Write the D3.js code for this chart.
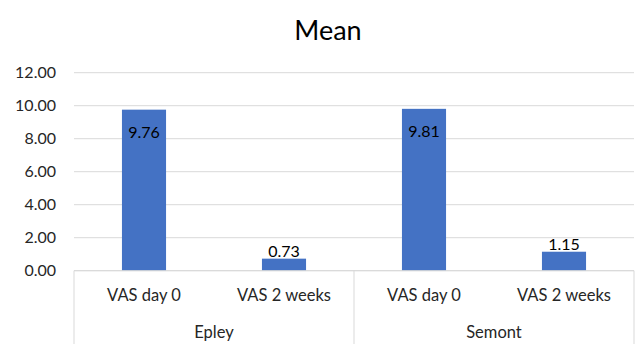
<!DOCTYPE html>
<html>
<head>
<meta charset="utf-8">
<script src="https://cdn.jsdelivr.net/npm/d3@7"></script>
<style>
  body { margin: 0; background: #fff; }
  svg { display: block; font-family: Lato, "Open Sans", sans-serif; }
</style>
</head>
<body>
<div id="chart"></div>
<script>
// groups and sub-categories
const groups = ["Epley", "Semont"];
const subCategories = ["VAS day 0", "VAS 2 weeks"];
const meanValues = [9.76, 0.73, 9.81, 1.15];
const yTicks = [0, 2, 4, 6, 8, 10, 12];

const width = 644, height = 344;
const margin = {top: 72.7, right: 10, bottom: 73.3, left: 74};

const rows = [];
groups.forEach((g, gi) => subCategories.forEach((s, si) => rows.push({group: g, sub: s, value: meanValues[gi * subCategories.length + si]})));

const svg = d3.select("#chart").append("svg")
    .attr("width", width)
    .attr("height", height);

const x0 = d3.scaleBand()
    .domain(groups)
    .range([margin.left, width - margin.right]);

const x1 = d3.scaleBand()
    .domain(subCategories)
    .range([0, x0.bandwidth()])
    .paddingInner(0.685)
    .paddingOuter(0.3425);

const y = d3.scaleLinear()
    .domain([0, 12])
    .range([height - margin.bottom, margin.top]);

// grid lines
svg.append("g")
  .selectAll("line")
  .data(yTicks)
  .join("line")
    .attr("x1", margin.left)
    .attr("x2", width - margin.right)
    .attr("y1", d => y(d))
    .attr("y2", d => y(d))
    .attr("stroke", "#d9d9d9")
    .attr("stroke-width", 1);

// y labels
svg.append("g")
  .selectAll("text")
  .data(yTicks)
  .join("text")
    .attr("x", 56)
    .attr("y", d => y(d))
    .attr("dy", "0.35em")
    .attr("text-anchor", "end")
    .attr("font-size", 16)
    .attr("fill", "#262626")
    .text(d => d3.format(".2f")(d));

// bars
svg.append("g")
  .selectAll("rect")
  .data(rows)
  .join("rect")
    .attr("x", d => x0(d.group) + x1(d.sub))
    .attr("y", d => y(d.value))
    .attr("width", x1.bandwidth())
    .attr("height", d => y(0) - y(d.value))
    .attr("fill", "#4472c4");

// value labels
svg.append("g")
  .selectAll("text")
  .data(rows)
  .join("text")
    .attr("x", d => x0(d.group) + x1(d.sub) + x1.bandwidth() / 2)
    .attr("y", d => d.value > 5 ? y(d.value) + 28 : y(d.value) - 2)
    .attr("text-anchor", "middle")
    .attr("font-size", 16)
    .attr("fill", "#000")
    .text(d => d3.format(".2f")(d.value));

// category axis
const axis = svg.append("g").attr("stroke", "#d9d9d9").attr("stroke-width", 1);
axis.append("line")
    .attr("x1", margin.left).attr("x2", width - margin.right)
    .attr("y1", y(0)).attr("y2", y(0));
[...groups.map(g => x0(g)), width - margin.right].forEach(xv => {
  axis.append("line")
      .attr("x1", xv).attr("x2", xv)
      .attr("y1", y(0)).attr("y2", height);
});

svg.append("g")
  .selectAll("text")
  .data(rows)
  .join("text")
    .attr("x", d => x0(d.group) + x1(d.sub) + x1.bandwidth() / 2)
    .attr("y", 301)
    .attr("text-anchor", "middle")
    .attr("font-size", 16.5)
    .attr("fill", "#262626")
    .text(d => d.sub);

svg.append("g")
  .selectAll("text")
  .data(groups)
  .join("text")
    .attr("x", d => x0(d) + x0.bandwidth() / 2)
    .attr("y", 338)
    .attr("text-anchor", "middle")
    .attr("font-size", 16.5)
    .attr("fill", "#262626")
    .text(d => d);

// title
svg.append("text")
    .attr("x", 328)
    .attr("y", 40)
    .attr("text-anchor", "middle")
    .attr("font-size", 27)
    .attr("fill", "#000")
    .text("Mean");
</script>
</body>
</html>
